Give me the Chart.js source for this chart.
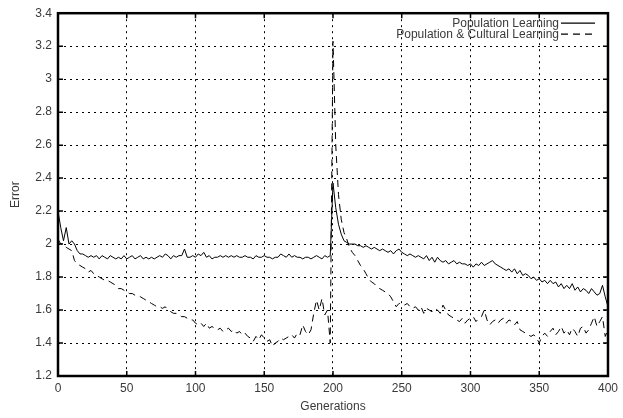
<!DOCTYPE html>
<html><head><meta charset="utf-8">
<script src="https://cdn.jsdelivr.net/npm/chart.js@4/dist/chart.umd.min.js"></script>
<style>html,body{margin:0;padding:0;background:#fff;overflow:hidden}canvas{display:block}</style>
</head><body><canvas id="c" width="623" height="418"></canvas>
<script>
// Generation index (every 2nd generation sampled), 0..400
const generations = Array.from({length: 201}, (_, i) => i * 2);
const seriesNames = ["Population Learning", "Population & Cultural Learning"];
const popLearning = [
2.20,2.10,2.02,2.10,2.00,2.02,2.00,1.96,1.94,1.94,
1.93,1.92,1.93,1.92,1.93,1.91,1.93,1.92,1.91,1.93,
1.92,1.91,1.92,1.91,1.93,1.91,1.92,1.93,1.91,1.92,
1.93,1.91,1.92,1.91,1.92,1.91,1.92,1.93,1.92,1.94,
1.93,1.91,1.93,1.92,1.93,1.93,1.97,1.92,1.92,1.93,
1.92,1.94,1.93,1.95,1.92,1.93,1.91,1.92,1.92,1.93,
1.92,1.93,1.92,1.93,1.92,1.93,1.92,1.92,1.93,1.92,
1.92,1.91,1.93,1.92,1.92,1.93,1.92,1.92,1.91,1.92,
1.92,1.94,1.93,1.92,1.94,1.92,1.93,1.92,1.92,1.91,
1.92,1.92,1.91,1.92,1.93,1.92,1.91,1.93,1.92,1.93,
2.37,2.22,2.12,2.06,2.02,2.01,2.00,2.00,2.00,1.99,
1.99,1.98,1.99,1.98,1.97,1.98,1.97,1.96,1.97,1.96,
1.95,1.96,1.94,1.96,1.97,1.95,1.94,1.93,1.94,1.93,
1.92,1.93,1.92,1.91,1.93,1.90,1.92,1.89,1.92,1.90,
1.89,1.90,1.88,1.89,1.90,1.88,1.89,1.88,1.88,1.87,
1.88,1.86,1.88,1.87,1.89,1.87,1.88,1.89,1.90,1.88,
1.87,1.86,1.85,1.84,1.85,1.83,1.85,1.82,1.84,1.81,
1.82,1.81,1.79,1.80,1.78,1.79,1.77,1.78,1.76,1.78,
1.76,1.77,1.74,1.76,1.73,1.75,1.73,1.76,1.72,1.74,
1.71,1.73,1.72,1.70,1.73,1.71,1.69,1.70,1.75,1.68,
1.62];
const popCultural = [
2.03,2.00,2.00,1.98,1.97,1.96,1.90,1.88,1.87,1.86,
1.85,1.83,1.84,1.82,1.81,1.80,1.79,1.78,1.78,1.77,
1.76,1.75,1.73,1.73,1.72,1.71,1.70,1.70,1.69,1.69,
1.68,1.67,1.66,1.65,1.64,1.63,1.62,1.62,1.61,1.62,
1.60,1.59,1.58,1.58,1.57,1.56,1.56,1.55,1.54,1.54,
1.52,1.51,1.52,1.50,1.52,1.49,1.50,1.49,1.48,1.49,
1.47,1.48,1.49,1.47,1.48,1.46,1.47,1.45,1.46,1.44,
1.43,1.41,1.44,1.42,1.45,1.43,1.41,1.42,1.38,1.40,
1.41,1.43,1.42,1.43,1.44,1.45,1.43,1.46,1.45,1.51,
1.47,1.45,1.48,1.58,1.66,1.60,1.67,1.57,1.60,1.40,
3.23,2.60,2.30,2.15,2.07,2.03,1.98,1.95,1.93,1.90,
1.87,1.85,1.82,1.79,1.77,1.76,1.74,1.73,1.72,1.71,
1.70,1.68,1.65,1.62,1.64,1.64,1.63,1.64,1.62,1.61,
1.62,1.60,1.62,1.58,1.61,1.60,1.59,1.61,1.60,1.58,
1.63,1.60,1.57,1.56,1.55,1.54,1.53,1.55,1.52,1.54,
1.55,1.56,1.53,1.55,1.56,1.60,1.54,1.51,1.53,1.54,
1.52,1.54,1.55,1.52,1.54,1.53,1.51,1.53,1.48,1.47,
1.46,1.45,1.44,1.45,1.43,1.40,1.44,1.46,1.44,1.47,
1.49,1.45,1.47,1.50,1.46,1.48,1.45,1.49,1.47,1.44,
1.49,1.50,1.46,1.48,1.52,1.56,1.50,1.53,1.56,1.44,
1.48];
const xTicks = [0,50,100,150,200,250,300,350,400];
const yTicks = [1.2,1.4,1.6,1.8,2,2.2,2.4,2.6,2.8,3,3.2,3.4];

const FONT = "'Liberation Sans', Arial, sans-serif";
const TXT = '#3a3a3a';

const framePlugin = {
  id: 'frame',
  afterDatasetsDraw(chart) {
    const {ctx, chartArea: a, scales} = chart;
    ctx.save();
    ctx.strokeStyle = '#000';
    ctx.lineWidth = 1.5;
    // inward tick marks on all four sides
    ctx.beginPath();
    scales.x.ticks.forEach(t => {
      const px = scales.x.getPixelForValue(t.value);
      ctx.moveTo(px, a.bottom); ctx.lineTo(px, a.bottom - 5);
      ctx.moveTo(px, a.top); ctx.lineTo(px, a.top + 5);
    });
    scales.y.ticks.forEach(t => {
      const py = scales.y.getPixelForValue(t.value);
      ctx.moveTo(a.left, py); ctx.lineTo(a.left + 5, py);
      ctx.moveTo(a.right, py); ctx.lineTo(a.right - 5, py);
    });
    ctx.stroke();
    ctx.lineWidth = 2.5;
    ctx.strokeRect(a.left, a.top, a.right - a.left, a.bottom - a.top);
    // legend: text right-aligned followed by line sample
    ctx.font = '12px ' + FONT;
    ctx.textAlign = 'right';
    ctx.textBaseline = 'middle';
    chart.data.datasets.forEach((ds, i) => {
      const y = a.top + 10 + i * 11;
      ctx.fillStyle = TXT;
      ctx.fillText(ds.label, a.right - 49, y);
      ctx.strokeStyle = '#000';
      ctx.lineWidth = 1.2;
      ctx.setLineDash(ds.borderDash || []);
      ctx.beginPath();
      ctx.moveTo(a.right - 47, y); ctx.lineTo(a.right - 13, y);
      ctx.stroke();
      ctx.setLineDash([]);
    });
    ctx.restore();
  }
};

new Chart(document.getElementById('c'), {
  type: 'line',
  data: {
    datasets: [
      {label: seriesNames[0], data: generations.map((g, i) => ({x: g, y: popLearning[i]})),
       borderColor: '#000', borderWidth: 1, pointRadius: 0, tension: 0, fill: false},
      {label: seriesNames[1], data: generations.map((g, i) => ({x: g, y: popCultural[i]})),
       borderColor: '#000', borderWidth: 1, borderDash: [7, 5], pointRadius: 0, tension: 0, fill: false}
    ]
  },
  options: {
    responsive: false,
    animation: false,
    devicePixelRatio: 1,
    layout: {padding: {top: 12, right: 15, left: 0, bottom: 4}},
    plugins: {legend: {display: false}, tooltip: {enabled: false}},
    scales: {
      x: {
        type: 'linear', min: 0, max: 400,
        afterBuildTicks: s => { s.ticks = xTicks.map(v => ({value: v})); },
        afterFit: s => { s.height = 38; },
        grid: {color: '#000', lineWidth: 1, drawTicks: false},
        border: {display: false, dash: [2, 4]},
        ticks: {color: TXT, font: {family: FONT, size: 12}, padding: 5, maxRotation: 0},
        title: {display: true, text: 'Generations', color: TXT, font: {family: FONT, size: 12}, padding: {top: 0, bottom: 0}}
      },
      y: {
        type: 'linear', min: 1.2, max: 3.4,
        afterBuildTicks: s => { s.ticks = yTicks.map(v => ({value: v})); },
        afterFit: s => { s.width = 58; },
        grid: {color: '#000', lineWidth: 1, drawTicks: false},
        border: {display: false, dash: [2, 4]},
        ticks: {color: TXT, font: {family: FONT, size: 12}, padding: 6,
                callback: v => String(Number(v.toFixed(1)))},
        title: {display: true, text: 'Error', color: TXT, font: {family: FONT, size: 12}, padding: {top: 8, bottom: 0}}
      }
    }
  },
  plugins: [framePlugin]
});
</script>
</body></html>
